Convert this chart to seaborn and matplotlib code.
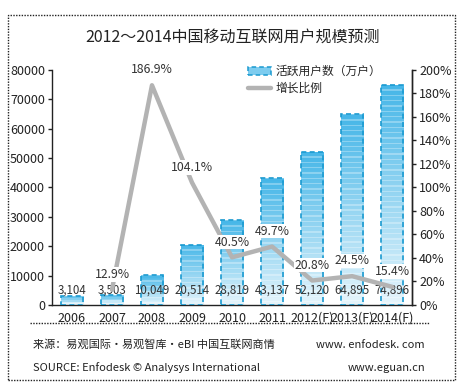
import numpy as np
import pandas as pd
import matplotlib
matplotlib.use("Agg")
import matplotlib.pyplot as plt
import seaborn as sns
from matplotlib.patches import Rectangle
from matplotlib.lines import Line2D
from matplotlib.colors import to_rgb

years = ["2006", "2007", "2008", "2009", "2010", "2011", "2012(F)", "2013(F)", "2014(F)"]
users = [3104, 3503, 10049, 20514, 28819, 43137, 52120, 64895, 74896]
growth_years = ["2007", "2008", "2009", "2010", "2011", "2012(F)", "2013(F)", "2014(F)"]
growth = [12.9, 186.9, 104.1, 40.5, 49.7, 20.8, 24.5, 15.4]

title = "2012～2014中国移动互联网用户规模预测"
bar_label = "活跃用户数（万户）"
line_label = "增长比例"

sns.set_theme(style="white")
plt.rcParams["font.family"] = ["Noto Sans CJK SC", "DejaVu Sans"]

fig = plt.figure(figsize=(4.76, 3.88), dpi=100)
ax = fig.add_axes([0.109, 0.214, 0.757, 0.606])

df = pd.DataFrame({"year": years, "users": users})
sns.barplot(data=df, x="year", y="users", ax=ax, width=0.55, color="#5bbde8",
            edgecolor="#1a9ad0", linewidth=1.2, linestyle=(0, (3, 2)), zorder=3)

top_c = np.array(to_rgb("#45b6e8"))
bot_c = np.array(to_rgb("#e6f5fc"))
for p in ax.patches:
    x0 = p.get_x(); w = p.get_width(); h = p.get_height()
    p.set_facecolor("none")
    nrows = max(4, int(h / 1800.0 * 4))
    t = np.linspace(0, 1, nrows)[:, None]
    img = top_c[None, :] * (1 - t) + bot_c[None, :] * t
    img = img[:, None, :]
    stripe = (np.arange(nrows) % 4) == 0
    img[stripe] = img[stripe] * 0.7 + 0.3
    im = ax.imshow(img, extent=[x0, x0 + w, 0, h], aspect="auto", origin="upper",
                   zorder=2, interpolation="nearest")
    im.set_clip_path(p)

ax.set_xlim(-0.5, 8.5)
ax.set_ylim(0, 80000)
ax.set_yticks(range(0, 80001, 10000))
ax.set_xlabel("")
ax.set_ylabel("")
ax.tick_params(axis="both", labelsize=9, colors="#222222", length=3, width=1, direction="out",
               left=True, bottom=False, pad=2)
ax.spines["top"].set_visible(False)
for s in ["left", "bottom", "right"]:
    ax.spines[s].set_color("#222222")
    ax.spines[s].set_linewidth(1)

for i, v in enumerate(users):
    ax.text(i, 5000, f"{v:,}", ha="center", va="center", fontsize=8.3, color="#333333", zorder=6)

ax2 = ax.twinx()
gdf = pd.DataFrame({"x": [years.index(y) for y in growth_years], "g": growth})
sns.lineplot(data=gdf, x="x", y="g", ax=ax2, color="#b3b3b3", linewidth=3.2, zorder=4)
ax2.set_ylim(0, 200)
ax2.set_yticks(range(0, 201, 20))
ax2.set_yticklabels([f"{v}%" for v in range(0, 201, 20)])
ax2.set_xlim(-0.5, 8.5)
ax2.set_ylabel("")
ax2.set_xlabel("")
ax2.tick_params(axis="y", labelsize=9, colors="#222222", length=3, width=1, direction="out", right=True, pad=2)
for s in ["top", "left", "bottom"]:
    ax2.spines[s].set_visible(False)
ax2.spines["right"].set_color("#222222")
ax2.spines["right"].set_linewidth(1)
ax2.grid(False); ax.grid(False)

for xi, g in zip(gdf["x"], growth):
    ax2.annotate(f"{g}%", (xi, g), xytext=(0, 11), textcoords="offset points",
                 ha="center", va="center", fontsize=8.8, color="#333333",
                 bbox=dict(facecolor="white", edgecolor="none", pad=0.5), zorder=7)

handles = [Rectangle((0, 0), 1, 1, facecolor="#7dccef", edgecolor="#1a9ad0", linestyle=(0, (3, 2)), linewidth=1.1),
           Line2D([0], [0], color="#b3b3b3", linewidth=3.2)]
leg = ax2.legend(handles, [bar_label, line_label], loc="upper left", bbox_to_anchor=(0.53, 1.04),
                 frameon=False, fontsize=8.5, handlelength=2.0, handletextpad=0.4, labelspacing=0.3,
                 borderaxespad=0)

fig.text(0.488, 0.905, title, ha="center", va="center", fontsize=11.5, color="#222222")

fig.patches.append(Rectangle((0.017, 0.021), 0.939, 0.940, transform=fig.transFigure, fill=False,
                             edgecolor="#222222", linestyle=(0, (1, 1)), linewidth=1))
fig.add_artist(Line2D([0.063, 0.904], [0.168, 0.168], transform=fig.transFigure, color="#222222",
                      linestyle=(0, (1, 1)), linewidth=1))

fig.text(0.069, 0.111, "来源：易观国际·易观智库·eBI 中国互联网商情", ha="left", va="center", fontsize=8, color="#222222")
fig.text(0.069, 0.052, "SOURCE: Enfodesk © Analysys International", ha="left", va="center", fontsize=8, color="#222222")
fig.text(0.893, 0.111, "www. enfodesk. com", ha="right", va="center", fontsize=8, color="#222222")
fig.text(0.893, 0.052, "www.eguan.cn", ha="right", va="center", fontsize=8, color="#222222")

fig.savefig("out.png", dpi=100, facecolor="white")
